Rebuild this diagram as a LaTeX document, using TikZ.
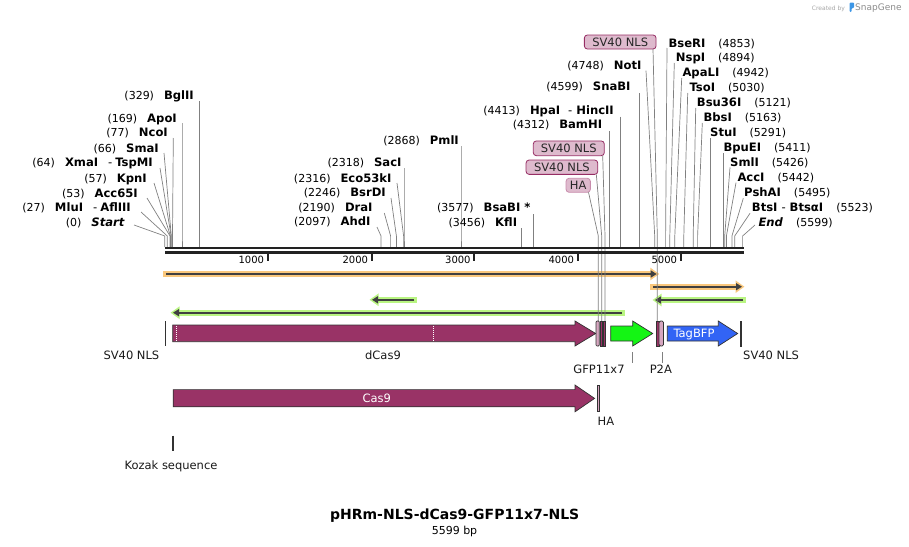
\documentclass[tikz,border=0pt]{standalone}
\usepackage{fontspec}
\setmainfont{DejaVu Sans}
\usetikzlibrary{arrows.meta}
\definecolor{maroon}{RGB}{153,51,102}
\definecolor{pinkf}{RGB}{214,166,192}
\definecolor{boxfill}{RGB}{222,186,205}
\definecolor{boxdraw}{RGB}{150,45,100}
\definecolor{haboxdraw}{RGB}{200,140,172}
\definecolor{gfpgreen}{RGB}{20,245,20}
\definecolor{bfpblue}{RGB}{50,100,245}
\definecolor{oglow}{RGB}{250,200,125}
\definecolor{gglow}{RGB}{185,245,130}
\definecolor{primerdark}{RGB}{64,64,64}
\definecolor{leadgray}{RGB}{128,128,128}
\definecolor{mapblack}{RGB}{34,34,34}
\definecolor{featedge}{RGB}{50,50,50}
\definecolor{snapblue}{RGB}{60,150,230}
\tikzset{
  enzlbl/.style={inner sep=0pt, font=\fontsize{11}{13}\selectfont, text=black},
  leader/.style={draw=leadgray, line width=0.7pt},
  featlbl/.style={inner sep=0pt, font=\fontsize{11.5}{13}\selectfont, text=black!90},
  featbox/.style={draw=boxdraw, fill=boxfill, rounded corners=3pt, line width=0.8pt, inner sep=0pt, font=\fontsize{11.5}{13}\selectfont, text=black!85},
  featshape/.style={draw=featedge, line width=0.7pt},
  maptick/.style={draw=mapblack, line width=2pt},
  ticklbl/.style={inner sep=0pt, font=\fontsize{10}{12}\selectfont, anchor=base east},
}
\newcommand{\enzname}[1]{{\fontsize{11.6}{13}\selectfont\textbf{#1}}}
% left-side enzyme label: name, text right x, text y, number, enzyme, lead start x, lead start y, map x
\newcommand{\enzL}[8]{%
  \node[enzlbl, anchor=base east] (#1) at (#2,#3+4) {(#4)\hspace{10pt}\enzname{#5}};
  \coordinate (#1s) at (#6,#7);
  \coordinate (#1k) at (#8,236);
  \coordinate (#1m) at (#8,247);
  \draw[leader] (#1s) -- (#1k) -- (#1m);
}
% right-side enzyme label: name, text left x, text y, enzyme, number, lead start x, lead start y, map x
\newcommand{\enzR}[8]{%
  \node[enzlbl, anchor=base west] (#1) at (#2,#3+4) {\enzname{#4}\hspace{13pt}(#5)};
  \coordinate (#1s) at (#6,#7);
  \coordinate (#1k) at (#8,236);
  \coordinate (#1m) at (#8,247);
  \draw[leader] (#1s) -- (#1k) -- (#1m);
}
% primer-like arrow: name, y, tail x, tip x, glow tip x, glow colour
\newcommand{\primarrow}[6]{%
  \coordinate (#1a) at (#3,#2);
  \coordinate (#1b) at (#4,#2);
  \coordinate (#1g) at (#5,#2);
  \draw[#6, line width=6pt, line cap=rect, -{Triangle[length=9pt,width=12pt]}] (#1a) -- (#1g);
  \draw[primerdark, line width=1.8pt, -{Triangle[length=6pt,width=7pt]}] (#1a) -- (#1b);
}
\begin{document}
\begin{tikzpicture}[x=1pt,y=-1pt]
\useasboundingbox (0,0) rectangle (909,546);

% ---------- enzyme labels and leaders ----------
\enzL{bglII}{194}{95}{329}{BglII}{199.2}{101}{199.2}
\enzL{apoI}{177}{118}{169}{ApoI}{182}{123}{182}
\enzL{ncoI}{168}{132.7}{77}{NcoI}{173.3}{138}{172.5}
\enzL{smaI}{159}{148}{66}{SmaI}{164}{153}{171.3}
\enzL{xmaI}{153}{162.7}{64}{XmaI\hspace{10pt}\textnormal{-}\hspace{3pt}TspMI}{160}{168}{171.1}
\enzL{kpnI}{147}{178}{57}{KpnI}{154}{183}{170.4}
\enzL{accsI}{138}{193}{53}{Acc65I}{147}{198}{170}
\enzL{mluI}{131}{207.7}{27}{MluI\hspace{10pt}\textnormal{-}\hspace{3pt}AflIII}{141}{212}{167.3}
\enzL{startS}{125}{222.7}{0}{\textit{Start}}{134}{225}{164.8}

\enzL{pmlI}{459}{140}{2868}{PmlI}{461}{146}{461}
\enzL{sacI}{401.7}{162.7}{2318}{SacI}{404}{168}{404}
\enzL{eco}{391.7}{178}{2316}{Eco53kI}{397}{183}{403.6}
\enzL{bsrDI}{386}{192.7}{2246}{BsrDI}{391}{198}{396.4}
\enzL{draI}{372.7}{207.3}{2190}{DraI}{384.3}{213}{390.6}
\enzL{ahdI}{370.7}{221.7}{2097}{AhdI}{377}{227}{381}
\enzL{bsaBI}{530.7}{207.3}{3577}{BsaBI *}{533.8}{214}{533.8}
\enzL{kflI}{517.3}{222.3}{3456}{KflI}{521.3}{228.3}{521.3}
\enzL{notI}{641.7}{65}{4748}{NotI}{646}{70.7}{654.7}
\enzL{snaBI}{630.7}{86.7}{4599}{SnaBI}{639.4}{93.3}{639.4}
\enzL{hpaI}{614}{110}{4413}{HpaI\hspace{8pt}\textnormal{-}\hspace{4pt}HincII}{620.1}{116.7}{620.1}
\enzL{bamHI}{602.3}{124.3}{4312}{BamHI}{609.7}{131}{609.7}

\enzR{bseRI}{668.3}{43.3}{BseRI}{4853}{667}{48}{665.6}
\enzR{nspI}{675.7}{57.7}{NspI}{4894}{674.3}{63}{669.8}
\enzR{apaLI}{682.3}{72.7}{ApaLI}{4942}{681.7}{78}{674.8}
\enzR{tsoI}{689.3}{87.7}{TsoI}{5030}{687.7}{93}{683.8}
\enzR{bsu}{696.7}{102.7}{Bsu36I}{5121}{695.7}{108}{693.2}
\enzR{bbsI}{703.3}{117.7}{BbsI}{5163}{702.3}{123}{697.6}
\enzR{stuI}{710}{132.7}{StuI}{5291}{710.8}{138}{710.8}
\enzR{bpuEI}{723.3}{147.7}{BpuEI}{5411}{723.2}{153}{723.2}
\enzR{smlI}{730}{162.7}{SmlI}{5426}{730}{167.3}{724.7}
\enzR{accI}{737.3}{177.7}{AccI}{5442}{736}{182.7}{726.4}
\enzR{pshAI}{744}{192.7}{PshAI}{5495}{743.3}{198.3}{731.9}
\enzR{btsI}{751.7}{207.7}{BtsI\hspace{4pt}\textnormal{-}\hspace{4pt}BtsαI}{5523}{750}{213.3}{734.7}
\enzR{endS}{758.3}{222.7}{\textit{End}}{5599}{755}{225}{742.6}

% ---------- feature label boxes ----------
\node[featbox, minimum width=71.7, minimum height=14] (nlsTop) at (620.2,42) {SV40 NLS};
\node[featbox, minimum width=71, minimum height=14.7] (nlsA) at (568.8,148.3) {SV40 NLS};
\node[featbox, minimum width=71.7, minimum height=14.3] (nlsB) at (561.9,167.2) {SV40 NLS};
\node[featbox, draw=haboxdraw, minimum width=24.3, minimum height=14] (haBox) at (578.2,185.3) {HA};

% ---------- primer rows ----------
\primarrow{pr1}{274}{166}{656.7}{659.3}{oglow}
\primarrow{pr2}{286.7}{653.3}{742}{744.5}{oglow}
\primarrow{pr3}{300}{742.5}{655}{652.5}{gglow}
\primarrow{pr4}{299.8}{414}{372}{369.5}{gglow}
\primarrow{pr5}{312.7}{621.7}{173}{170.5}{gglow}

% ---------- feature leader lines ----------
\coordinate (nlsTops) at (653,49);   \coordinate (nlsTopk) at (657.3,236); \coordinate (nlsTope) at (657.3,346);
\coordinate (nlsAs) at (602.7,155.7); \coordinate (nlsAk) at (605,236);    \coordinate (nlsAe) at (605,346);
\coordinate (nlsBs) at (596.3,174.3); \coordinate (nlsBk) at (601.7,236);  \coordinate (nlsBe) at (601.7,346);
\coordinate (haBoxs) at (588.5,192.3); \coordinate (haBoxk) at (598.3,236); \coordinate (haBoxe) at (598.3,346);
\draw[leader] (nlsTops) -- (nlsTopk) -- (nlsTope);
\draw[leader] (nlsAs) -- (nlsAk) -- (nlsAe);
\draw[leader] (nlsBs) -- (nlsBk) -- (nlsBe);
\draw[leader] (haBoxs) -- (haBoxk) -- (haBoxe);

% ---------- map line and ticks ----------
\coordinate (mapL) at (165,248); \coordinate (mapR) at (743.5,248);
\coordinate (mapL2) at (165,252.3); \coordinate (mapR2) at (743.5,252.3);
\draw[mapblack, line width=2.6pt] (mapL) -- (mapR);
\draw[mapblack, line width=2.4pt] (mapL2) -- (mapR2);
\foreach \tx/\tl [count=\i] in {267.7/1000, 371.7/2000, 474.3/3000, 577.7/4000, 680.7/5000}{
  \coordinate (tickA\i) at (\tx,253);
  \coordinate (tickB\i) at (\tx,260.7);
  \draw[maptick] (tickA\i) -- (tickB\i);
  \node[ticklbl] (tickL\i) at (\tx-3.5,263.5) {\tl};
}

% ---------- features row 1 ----------
\draw[featedge, line width=1.2pt] (165.7,321) -- (165.7,346);
\draw[featshape, fill=maroon] (172.7,325) -- (575,325) -- (575,321) -- (595.7,333.5) -- (575,346) -- (575,341.7) -- (172.7,341.7) -- cycle;
\draw[white, line width=1.1pt, dash pattern=on 1pt off 1pt] (176.7,326) -- (176.7,341);
\draw[white, line width=1.1pt, dash pattern=on 1pt off 1pt] (433.3,326) -- (433.3,341);
\draw[featshape, fill=pinkf, rounded corners=1pt] (596,321) rectangle (599.3,346);
\draw[featshape, fill=maroon] (600.6,321) rectangle (602.4,346);
\draw[featshape, fill=maroon] (603.6,321) rectangle (605.4,346);
\draw[featshape, fill=gfpgreen] (610.7,326) -- (632.7,326) -- (632.7,321) -- (652.7,333.5) -- (632.7,346) -- (632.7,341) -- (610.7,341) -- cycle;
\draw[featshape, fill=maroon] (656,321) rectangle (659,346);
\draw[featshape, fill=pinkf, rounded corners=1.5pt] (659,321) rectangle (663.5,346);
\draw[featshape, fill=bfpblue] (667.3,326) -- (718.3,326) -- (718.3,321) -- (737.7,333.5) -- (718.3,346) -- (718.3,341) -- (667.3,341) -- cycle;
\draw[featshape, fill=maroon] (740.5,321) rectangle (741.8,346);
\node[featlbl, text=white, anchor=base] (tagbfpTxt) at (694,337.2) {TagBFP};

% feature labels row 1
\node[featlbl, anchor=base east] (nlsLlbl) at (159.5,359.2) {SV40 NLS};
\node[featlbl, anchor=base] (dcas9lbl) at (383,359.2) {dCas9};
\node[featlbl, anchor=base west] (nlsRlbl) at (743,359.2) {SV40 NLS};
\coordinate (gfpT1) at (632.3,352.3); \coordinate (gfpT2) at (632.3,363.3);
\draw[leader] (gfpT1) -- (gfpT2);
\node[featlbl, anchor=base] (gfplbl) at (599,373.2) {GFP11x7};
\coordinate (p2aT1) at (662.3,352.3); \coordinate (p2aT2) at (662.3,363.3);
\draw[leader] (p2aT1) -- (p2aT2);
\node[featlbl, anchor=base] (p2albl) at (660.8,373.2) {P2A};

% ---------- features row 2 ----------
\draw[featshape, fill=maroon] (173.2,389.6) -- (575,389.6) -- (575,385) -- (594.6,398.4) -- (575,411.8) -- (575,406.8) -- (173.2,406.8) -- cycle;
\node[featlbl, text=white, anchor=base] (cas9Txt) at (376.8,402.3) {Cas9};
\draw[featshape, fill=pinkf] (597.3,385) rectangle (599.4,411.8);
\node[featlbl, anchor=base west] (halbl) at (597.5,425.3) {HA};

% Kozak
\coordinate (kozakA) at (173.2,435.5); \coordinate (kozakB) at (173.2,451);
\draw[featedge, line width=1.5pt] (kozakA) -- (kozakB);
\node[featlbl, anchor=base] (kozaklbl) at (171,469) {Kozak sequence};

% ---------- title ----------
\node[inner sep=0pt, anchor=base, font=\bfseries\fontsize{14}{16}\selectfont] (title) at (454.7,519.5) {pHRm-NLS-dCas9-GFP11x7-NLS};
\node[inner sep=0pt, anchor=base, font=\fontsize{11}{13}\selectfont] (bp) at (454.5,534.5) {5599 bp};

% ---------- SnapGene credit ----------
\node[inner sep=0pt, anchor=base west, text=black!35, font=\fontsize{6}{7}\selectfont] (createdby) at (811.7,10) {Created by};
\fill[snapblue, rounded corners=1pt] (849.5,2.5) -- (854,2.5) -- (854,8) -- (851.5,8) -- (851.5,12) -- (849.5,12) -- cycle;
\node[inner sep=0pt, anchor=base west, text=black!45, font=\fontsize{9}{10}\selectfont] (snapgene) at (855,10.5) {SnapGene};
\end{tikzpicture}
\end{document}
